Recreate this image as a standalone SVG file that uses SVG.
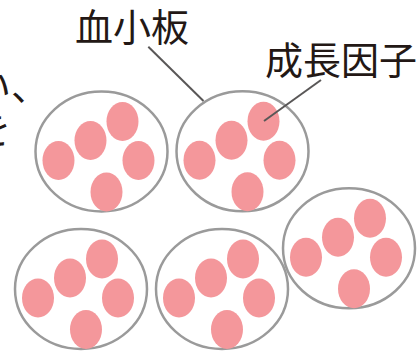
<svg xmlns="http://www.w3.org/2000/svg" xmlns:xlink="http://www.w3.org/1999/xlink" width="420" height="357" viewBox="0 0 420 357">
  <style>
    .label { font-family: "Noto Sans CJK JP", "Noto Sans", sans-serif; font-size: 38px; fill: #231815; }
    .shell { fill: none; stroke: #9a9a9a; stroke-width: 2.5; }
    .granule { fill: #f4979b; }
    .leader { stroke: #595757; stroke-width: 2; fill: none; stroke-linecap: butt; }
  </style>
  <defs>
    <!-- one platelet: outline with five growth-factor granules, centred on 0,0 -->
    <g id="platelet">
      <ellipse class="shell" cx="0" cy="0" rx="66" ry="60"/>
      <ellipse class="granule" cx="-43" cy="9" rx="16" ry="19.5"/>
      <ellipse class="granule" cx="-11" cy="-11" rx="16" ry="19.5"/>
      <ellipse class="granule" cx="21" cy="-30" rx="16" ry="19.5"/>
      <ellipse class="granule" cx="37" cy="9" rx="16" ry="19.5"/>
      <ellipse class="granule" cx="5" cy="40.5" rx="16" ry="19.5"/>
    </g>
  </defs>

  <rect width="420" height="357" fill="#ffffff"/>

  <!-- body text running in from the left margin -->
  <text class="label" x="49" y="100" text-anchor="end">い、</text>
  <text class="label" x="-27" y="143">を</text>

  <g id="platelet-1"><use xlink:href="#platelet" transform="translate(101.5,151.5)"/></g>
  <g id="platelet-2"><use xlink:href="#platelet" transform="translate(242.5,151.3)"/></g>
  <g id="platelet-3"><use xlink:href="#platelet" transform="translate(81,289)"/></g>
  <g id="platelet-4"><use xlink:href="#platelet" transform="translate(222,289)"/></g>
  <g id="platelet-5"><use xlink:href="#platelet" transform="translate(349,248.3)"/></g>

  <g id="connectors">
    <line class="leader" x1="148.3" y1="46.7" x2="203.5" y2="101"/>
    <line class="leader" x1="321" y1="80" x2="264" y2="121"/>
  </g>

  <g id="label-platelet"><text class="label" x="75" y="40.5">血小板</text></g>
  <g id="label-growth-factor"><text class="label" x="265" y="74">成長因子</text></g>
</svg>
